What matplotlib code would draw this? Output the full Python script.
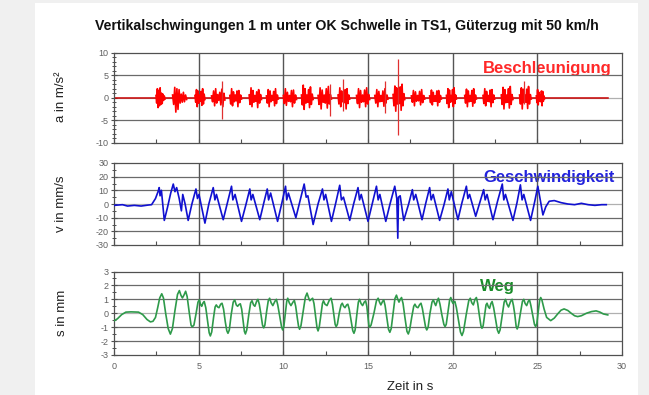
import numpy as np
import matplotlib
matplotlib.use("Agg")
import matplotlib.pyplot as plt
from matplotlib.patches import Rectangle
from matplotlib.ticker import MultipleLocator

plt.rcParams['font.family'] = ['Liberation Sans', 'DejaVu Sans']
plt.rcParams['axes.unicode_minus'] = False

# ---------------- data ----------------
title = "Vertikalschwingungen 1 m unter OK Schwelle in TS1, Güterzug mit 50 km/h"

# acceleration: quiet baseline, bursts (signed peak values), isolated spikes
acc_line_t = [0.0, 29.17]
acc_line_v = [0.0, 0.0]
acc_burst_start = [2.48, 3.46, 4.78, 5.76, 6.84, 7.98, 9.00, 10.00, 11.07, 12.05, 13.23,
                   14.32, 15.40, 16.48, 17.56, 18.64, 19.63, 20.71, 21.79, 22.87, 23.95, 24.94]
acc_burst_end = [3.01, 4.29, 5.37, 6.55, 7.53, 8.71, 9.70, 10.78, 11.76, 12.84, 13.92,
                 15.10, 16.18, 17.17, 18.35, 19.33, 20.22, 21.40, 22.48, 23.56, 24.64, 25.43]
acc_burst_vals = [
    [0.5, -1.2, 2.0, -2.2, 1.6, -1.8, 2.2, -1.5, 1.0, -1.3, 0.8, -0.6, 0.4, -0.3],
    [0.6, -1.5, 2.3, -3.2, 2.0, -2.6, 1.8, -1.2, 0.8, -1.0, 1.2, -0.9, 0.6, -0.4],
    [0.5, -1.0, 1.8, -2.0, 1.5, -1.2, 0.6, -0.8, 1.4, -1.7, 2.0, -1.4, 0.8, -0.4],
    [0.4, -0.9, 1.5, -1.8, 2.0, -1.2, 0.7, -0.6, 1.2, -1.6, 1.9, -2.0, 1.0, -0.5],
    [0.5, -1.4, 2.0, -1.8, 1.3, -0.9, 0.6, -0.7, 1.5, -2.0, 1.6, -1.1, 0.6, -0.3],
    [0.6, -1.5, 2.2, -2.0, 1.6, -1.0, 0.5, -0.8, 1.3, -2.2, 1.8, -1.2, 0.7, -0.4],
    [0.4, -1.2, 1.8, -2.0, 1.5, -0.9, 0.5, -0.6, 1.4, -1.8, 2.0, -1.3, 0.6, -0.3],
    [0.5, -1.3, 2.0, -1.7, 1.2, -0.8, 0.5, -0.9, 1.6, -2.0, 1.7, -1.2, 0.6, -0.4],
    [0.6, -1.6, 2.8, -2.6, 2.0, -1.2, 0.6, -1.0, 1.8, -2.2, 2.4, -1.5, 0.8, -0.4],
    [0.5, -1.5, 2.2, -2.5, 1.7, -1.0, 0.6, -1.2, 2.0, -2.3, 2.5, -1.4, 0.7, -0.3],
    [0.6, -1.4, 2.2, -2.0, 1.5, -0.9, 0.5, -1.1, 1.8, -2.5, 2.0, -1.3, 0.6, -0.3],
    [0.5, -1.3, 2.0, -2.2, 1.6, -1.0, 0.6, -0.9, 1.7, -2.0, 2.2, -1.4, 0.7, -0.4],
    [0.5, -1.2, 1.8, -2.0, 1.4, -0.9, 0.5, -0.8, 1.5, -1.9, 2.0, -1.2, 0.6, -0.3],
    [0.7, -1.8, 2.6, -3.0, 2.2, -1.4, 0.8, -1.3, 2.4, -2.8, 3.0, -1.8, 0.9, -0.4],
    [0.4, -1.0, 1.6, -1.8, 1.3, -0.8, 0.5, -0.7, 1.4, -1.6, 1.8, -1.1, 0.5, -0.3],
    [0.4, -1.1, 1.7, -1.6, 1.2, -0.8, 0.4, -0.8, 1.5, -1.8, 1.6, -1.0, 0.5, -0.3],
    [0.5, -1.3, 2.0, -2.2, 1.7, -1.0, 0.5, -0.9, 1.8, -2.0, 2.2, -1.3, 0.6, -0.3],
    [0.5, -1.2, 1.9, -2.0, 1.5, -0.9, 0.5, -0.8, 1.6, -1.9, 2.0, -1.2, 0.6, -0.3],
    [0.5, -1.3, 2.0, -1.8, 1.4, -0.8, 0.5, -0.9, 1.7, -2.0, 1.8, -1.1, 0.6, -0.3],
    [0.6, -1.5, 2.3, -2.5, 1.8, -1.1, 0.6, -1.0, 2.0, -2.3, 2.5, -1.5, 0.7, -0.4],
    [0.6, -1.4, 2.2, -2.5, 1.9, -1.1, 0.6, -1.0, 1.9, -2.4, 2.5, -1.4, 0.7, -0.3],
    [0.4, -1.1, 1.8, -1.6, 1.2, -0.8, 0.5, -0.9, 1.5, -1.8, 1.4, -0.8, 0.4, -0.2],
]
acc_spike_t = [6.37, 12.74, 13.50, 16.00, 16.76, 24.21]
acc_spike_hi = [3.7, 3.0, 4.1, 3.7, 8.7, 3.7]
acc_spike_lo = [-4.8, -4.1, -3.0, -3.4, -8.2, -1.5]

# velocity
vel_t = [0, 0.5, 0.8, 1.2, 1.6, 2.0, 2.22, 2.45, 2.6, 2.67, 2.72, 2.8, 2.97, 3.15, 3.35, 3.5,
         3.6, 3.7, 3.85, 3.98, 4.06, 4.2, 4.38, 4.6, 4.84, 4.93, 5.02, 5.37, 5.6, 5.86, 5.96,
         6.05, 6.45, 6.7, 6.94, 7.02, 7.15, 7.53, 7.8, 8.02, 8.1, 8.2, 8.61, 8.85, 9.05, 9.13,
         9.25, 9.66, 9.9, 10.13, 10.2, 10.3, 10.74, 11.0, 11.23, 11.35, 11.45, 11.76, 12.05,
         12.31, 12.4, 12.5, 12.84, 13.1, 13.33, 13.43, 13.55, 13.92, 14.15, 14.41, 14.5, 14.6,
         15.0, 15.25, 15.5, 15.6, 15.7, 16.05, 16.3, 16.58, 16.7, 16.76, 16.8, 16.9, 17.11,
         17.4, 17.62, 17.7, 17.82, 18.19, 18.4, 18.64, 18.73, 18.85, 19.23, 19.5, 19.72, 19.8,
         19.92, 20.31, 20.55, 20.81, 20.9, 21.0, 21.36, 21.6, 21.83, 21.92, 22.03, 22.38, 22.65,
         22.93, 23.02, 23.12, 23.56, 23.8, 24.0, 24.1, 24.2, 24.6, 24.85, 25.03, 25.33, 25.5,
         25.7, 26.0, 26.4, 26.8, 27.2, 27.6, 28.0, 28.4, 28.8, 29.07]
vel_v = [-1, -0.5, -1.5, -1, -1.5, -0.8, -0.5, 4, 9, 12, 6, 10, -12, -3, 8, 14.6,
         9, 12, 4, -5, 7, 0, -12, 0, 11, 4, 7, -14, 0, 12, 3,
         7, -11.5, 1, 13, 3, 7, -12.7, 0, 11, 3, 7, -11.5, 1, 11, 3,
         8, -12.7, 0, 13, 3, 8, -10, 3, 14.6, 5, 6, -15, 0,
         11, 3, 7, -12.7, 1, 13.7, 3, 5, -12, 0, 12, 3, 7,
         -12.7, 0, 13, 3, 7, -12.7, 0, 13, 4, -25, 5, 6, -12,
         0, 10.5, 3, 7, -11.5, 0, 12, 3, 7, -12, 0, 11, 3,
         9, -11.5, 1, 13, 4, 7, -9, 1, 10.5, 3, 7, -11.5, 2,
         14.6, 3, 7, -12, 1, 14, 3, 7, -12, 2, 13, -8, -2,
         2, 2.5, 1, 0, -0.5, 0.5, -0.5, -1, -0.5, -0.5]

# displacement (time in s, value in mm)
weg_points = [
    (0, -0.55), (0.2, -0.4), (0.45, -0.1), (0.7, 0.08), (1.0, 0.1), (1.45, 0.08), (1.7, -0.1),
    (1.95, -0.45), (2.15, -0.62), (2.3, -0.58),
    (2.45, -0.3), (2.58, 0.4), (2.7, 1.1), (2.82, 1.4), (2.92, 1.1),
    (3.05, 0.0), (3.2, -1.1), (3.33, -1.5), (3.45, -1.1),
    (3.6, 0.2), (3.75, 1.35), (3.86, 1.63), (3.95, 1.3), (4.04, 1.1), (4.13, 1.3), (4.23, 1.58), (4.32, 1.2),
    (4.45, 0.0), (4.55, -0.85), (4.62, -0.98), (4.72, -0.85),
    (4.85, 0.0), (4.96, 0.8), (5.04, 0.96), (5.12, 0.6), (5.18, 0.5), (5.26, 0.75), (5.33, 0.84), (5.42, 0.4),
    (5.52, -0.5), (5.62, -1.4), (5.69, -1.63), (5.77, -1.35),
    (5.88, -0.3), (5.97, 0.45), (6.04, 0.6), (6.12, 0.45), (6.2, 0.4), (6.3, 0.65), (6.38, 0.72), (6.47, 0.3),
    (6.57, -0.6), (6.66, -1.25), (6.73, -1.44), (6.81, -1.2),
    (6.92, -0.1), (7.04, 0.8), (7.13, 0.96), (7.22, 0.6), (7.3, 0.5), (7.38, 0.62), (7.46, 0.68), (7.54, 0.3),
    (7.63, -0.6), (7.7, -1.3), (7.76, -1.49), (7.84, -1.2),
    (7.96, -0.1), (8.07, 0.75), (8.15, 0.9), (8.24, 0.6), (8.32, 0.5), (8.42, 0.85), (8.5, 1.0), (8.58, 0.65),
    (8.68, -0.1), (8.77, -0.85), (8.84, -1.05), (8.91, -0.85),
    (9.01, 0.1), (9.11, 0.9), (9.19, 1.08), (9.28, 0.75), (9.38, 0.55), (9.5, 0.85), (9.59, 1.0), (9.67, 0.6),
    (9.8, -0.3), (9.9, -1.0), (9.96, -1.2), (10.03, -0.95),
    (10.12, 0.0), (10.2, 0.85), (10.26, 1.08), (10.35, 0.75), (10.45, 0.55), (10.57, 0.8), (10.65, 0.92), (10.73, 0.5),
    (10.82, -0.3), (10.9, -0.95), (10.96, -1.15), (11.04, -0.9),
    (11.17, 0.1), (11.3, 1.15), (11.4, 1.45), (11.48, 1.15), (11.56, 0.9), (11.66, 1.0), (11.73, 1.08), (11.81, 0.7),
    (11.9, -0.2), (11.99, -1.05), (12.05, -1.27), (12.12, -1.0),
    (12.22, -0.1), (12.31, 0.7), (12.37, 0.9), (12.46, 0.65), (12.58, 0.55), (12.72, 0.95), (12.82, 1.08), (12.9, 0.65),
    (12.98, -0.1), (13.06, -0.8), (13.12, -0.96), (13.19, -0.8),
    (13.3, 0.0), (13.41, 0.6), (13.48, 0.72), (13.56, 0.5), (13.64, 0.4), (13.74, 0.6), (13.81, 0.65), (13.89, 0.3),
    (14.0, -0.5), (14.1, -1.25), (14.17, -1.44), (14.24, -1.2),
    (14.34, -0.1), (14.43, 0.8), (14.5, 1.0), (14.59, 0.7), (14.68, 0.55), (14.78, 0.8), (14.86, 0.89), (14.93, 0.5),
    (14.99, -0.2), (15.05, -0.85), (15.1, -1.0), (15.18, -0.85),
    (15.35, 0.0), (15.5, 0.9), (15.6, 1.08), (15.68, 0.8), (15.76, 0.6), (15.86, 0.85), (15.93, 0.96), (16.01, 0.55),
    (16.11, -0.3), (16.21, -1.15), (16.29, -1.37), (16.37, -1.1),
    (16.48, 0.0), (16.59, 1.05), (16.68, 1.3), (16.76, 1.0), (16.83, 0.8), (16.91, 1.0), (16.98, 1.13), (17.07, 0.7),
    (17.18, -0.3), (17.3, -1.3), (17.38, -1.49), (17.46, -1.2),
    (17.58, -0.3), (17.7, 0.5), (17.77, 0.65), (17.86, 0.45), (17.95, 0.4), (18.05, 0.62), (18.13, 0.72), (18.21, 0.35),
    (18.3, -0.3), (18.4, -1.0), (18.47, -1.2), (18.55, -1.0),
    (18.66, 0.0), (18.78, 0.8), (18.86, 0.96), (18.94, 0.7), (19.0, 0.55), (19.09, 0.9), (19.16, 1.08), (19.25, 0.65),
    (19.36, -0.1), (19.48, -0.8), (19.55, -0.96), (19.62, -0.8),
    (19.72, 0.1), (19.82, 0.95), (19.89, 1.13), (19.96, 0.85), (20.02, 0.7), (20.08, 0.82), (20.13, 0.85), (20.22, 0.4),
    (20.33, -0.4), (20.46, -1.35), (20.55, -1.6), (20.64, -1.3),
    (20.8, -0.1), (20.95, 0.9), (21.04, 1.08), (21.13, 0.75), (21.22, 0.6), (21.32, 1.0), (21.4, 1.13), (21.48, 0.7),
    (21.57, -0.1), (21.67, -0.9), (21.73, -1.08), (21.8, -0.9),
    (21.89, -0.1), (21.97, 0.6), (22.03, 0.72), (22.11, 0.45), (22.18, 0.35), (22.26, 0.7), (22.33, 0.84), (22.42, 0.4),
    (22.53, -0.4), (22.64, -1.2), (22.72, -1.44), (22.8, -1.2),
    (22.93, -0.1), (23.04, 0.8), (23.12, 1.0), (23.21, 0.65), (23.3, 0.45), (23.42, 0.85), (23.51, 1.0), (23.59, 0.55),
    (23.67, -0.1), (23.75, -0.95), (23.81, -1.13), (23.88, -0.9),
    (24.0, 0.0), (24.12, 0.85), (24.2, 1.0), (24.28, 0.7), (24.37, 0.55), (24.46, 0.85), (24.54, 0.96), (24.62, 0.55),
    (24.72, -0.1), (24.83, -0.8), (24.9, -0.96), (24.97, -0.75),
    (25.05, 0.1), (25.14, 0.95), (25.2, 1.13), (25.27, 0.95),
    (25.4, 0.3), (25.55, -0.3), (25.79, -0.53), (26.0, -0.35), (26.2, -0.05), (26.4, 0.22), (26.58, 0.31),
    (26.8, 0.2), (27.0, 0.0), (27.2, -0.18), (27.38, -0.24), (27.6, -0.18), (27.9, 0.0), (28.2, 0.12),
    (28.47, 0.17), (28.7, 0.08), (28.9, -0.05), (29.16, -0.12),
]
weg_t = [p[0] for p in weg_points]
weg_s = [p[1] for p in weg_points]

x_ticks = [0, 5, 10, 15, 20, 25, 30]
acc_ticks = [-10, -5, 0, 5, 10]
vel_ticks = [-30, -20, -10, 0, 10, 20, 30]
weg_ticks = [-3, -2, -1, 0, 1, 2, 3]

# ---------------- figure ----------------
W, H = 649, 395
fig = plt.figure(figsize=(W / 100, H / 100), dpi=100)
fig.patch.set_facecolor('#f0f0f0')
fig.patches.append(Rectangle((35 / W, 0), (638 - 35) / W, 1 - 3 / H, transform=fig.transFigure,
                             facecolor='white', edgecolor='none', zorder=-10))

L = 114 / W
AW = 508 / W
ax1 = fig.add_axes([L, 1 - 142.7 / H, AW, 90 / H])
ax2 = fig.add_axes([L, 1 - 245 / H, AW, 82 / H])
ax3 = fig.add_axes([L, 1 - 355 / H, AW, 83.5 / H])

tick_col = '#606060'


def style(ax, yticks, minor, show_xlabels):
    ax.set_xlim(0, 30)
    ax.set_ylim(yticks[0], yticks[-1])
    ax.set_facecolor('none')
    ax.set_yticks(yticks)
    ax.yaxis.set_minor_locator(MultipleLocator(minor))
    ax.set_xticks(x_ticks)
    ax.xaxis.set_minor_locator(MultipleLocator(2.5))
    for s in ax.spines.values():
        s.set_color('#505050')
        s.set_linewidth(0.9)
    ax.tick_params(axis='y', which='major', direction='inout', length=5, width=0.8,
                   colors='#505050', labelcolor=tick_col, labelsize=6.5, pad=1.5)
    ax.tick_params(axis='y', which='minor', direction='inout', length=3, width=0.7,
                   colors='#505050')
    ax.tick_params(axis='x', which='major', direction='in', length=3, width=0.8,
                   colors='#505050', labelcolor=tick_col, labelsize=6.5, pad=5)
    ax.tick_params(axis='x', which='minor', direction='in', length=3, width=0.8,
                   colors='#505050')
    if not show_xlabels:
        ax.tick_params(axis='x', labelbottom=False)
    for y in yticks[1:-1]:
        ax.axhline(y, color='#b0b0b0' if y == 0 else '#6a6a6a', lw=0.9, zorder=0.5)
    for x in x_ticks[1:-1]:
        ax.axvline(x, color='#555555', lw=1.0, zorder=0.5)


style(ax1, acc_ticks, 1, False)
style(ax2, vel_ticks, 5, False)
style(ax3, weg_ticks, 0.5, True)

# acceleration
ax1.plot(acc_line_t, acc_line_v, color='#c80000', lw=1.1, zorder=2)
for t0, t1, vals in zip(acc_burst_start, acc_burst_end, acc_burst_vals):
    tt = np.linspace(t0, t1, len(vals))
    ax1.plot(tt, vals, color='#ff0000', lw=1.2, zorder=3)
ax1.vlines(acc_spike_t, acc_spike_lo, acc_spike_hi, color='#e03030', lw=0.9, zorder=3)

# velocity
ax2.plot(vel_t, vel_v, color='#1010d0', lw=1.2, zorder=3)

# displacement
ax3.plot(weg_t, weg_s, color='#2e9a4a', lw=1.2, zorder=3)

# panel labels
ax1.text(29.4, 6.4, "Beschleunigung", color='#ff2828', fontsize=12, fontweight='bold',
         ha='right', va='center', zorder=0.2)
ax2.text(29.6, 19.6, "Geschwindigkeit", color='#2222dd', fontsize=12, fontweight='bold',
         ha='right', va='center', zorder=0.2)
ax3.text(22.65, 1.93, "Weg", color='#1a8c2a', fontsize=12, fontweight='bold',
         ha='center', va='center', zorder=0.2)

# titles / labels
fig.text(347 / W, 1 - 26 / H, title, ha='center', va='center', fontsize=10.2,
         fontweight='bold', color='#111111')
fig.text(61 / W, 1 - 97 / H, "a in m/s²", rotation=90, ha='center', va='center',
         fontsize=9.5, color='#222222')
fig.text(61 / W, 1 - 204 / H, "v in mm/s", rotation=90, ha='center', va='center',
         fontsize=9.5, color='#222222')
fig.text(62 / W, 1 - 313 / H, "s in mm", rotation=90, ha='center', va='center',
         fontsize=9.5, color='#222222')
fig.text(410 / W, 1 - 387 / H, "Zeit in s", ha='center', va='center', fontsize=9.5,
         color='#222222')

fig.savefig("out.png", dpi=100, facecolor=fig.get_facecolor())
